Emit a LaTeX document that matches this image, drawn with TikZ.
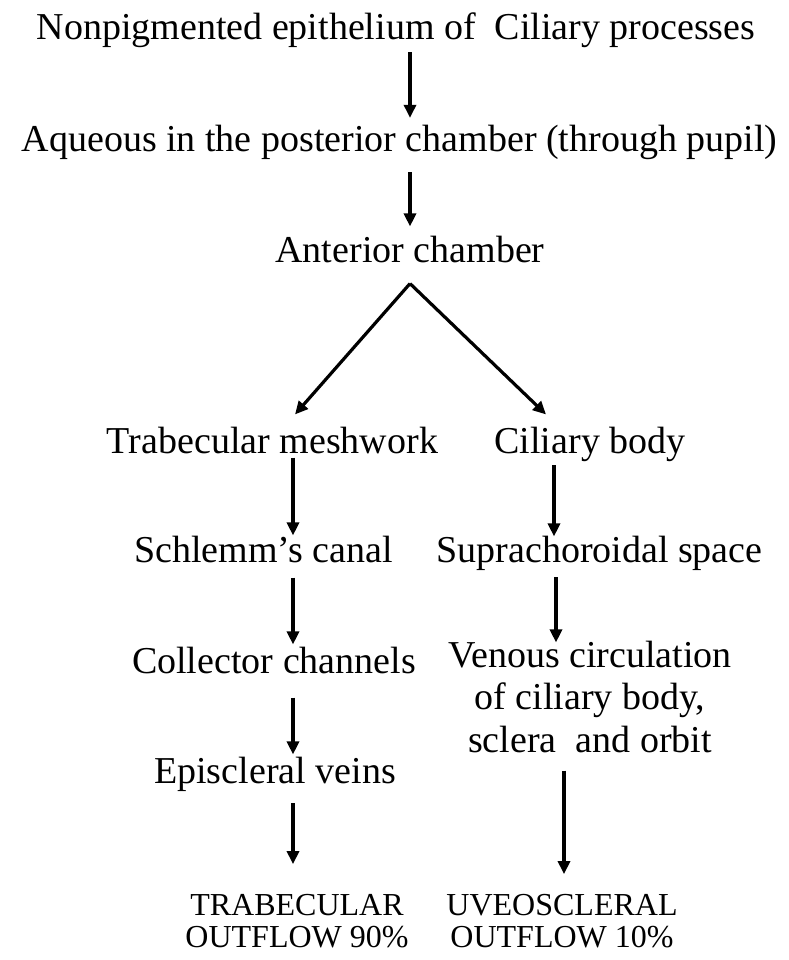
\documentclass[tikz,border=0pt]{standalone}
\usepackage{fontspec}
\setmainfont{Liberation Serif}
\usepackage{tikz}
\usetikzlibrary{arrows.meta}

\newcommand{\bigtext}{\fontsize{38}{42.5}\selectfont}
\newcommand{\smalltext}{\fontsize{32}{31.5}\selectfont}

\begin{document}
\begin{tikzpicture}[x=1pt,y=-1pt,
                    arr/.style={-{Triangle[length=13pt,width=12pt]},line width=3.2pt}]
                    \tikzstyle{every node}=[inner sep=0pt,anchor=base,font=\bigtext]

  \useasboundingbox[fill=white] (0,0) rectangle (788,960);

  \node (nonpig) at (396,40) {Nonpigmented epithelium of~~Ciliary processes};
  \node (aqueous) at (399.5,152) {Aqueous in the posterior chamber (through pupil)};
  \node (anterior) at (410,262) {Anterior chamber};

  \node (trab) at (272.5,453) {Trabecular meshwork};
  \node (ciliary) at (590,453) {Ciliary body};

  \node (schlemm) at (263.5,562) {Schlemm’s canal};
  \node (supra) at (599.5,562) {Suprachoroidal space};
  \node (collector) at (274,673) {Collector channels};
  \node (venous) [align=center] at (590,752) {Venous circulation\\of ciliary body,\\sclera~~and orbit};
  \node (episcleral) at (275,783) {Episcleral veins};

  \node (trabout) [align=center,font=\smalltext] at (297,947) {TRABECULAR\\OUTFLOW 90\%};
  \node (uveoout) [align=center,font=\smalltext] at (562,947) {UVEOSCLERAL\\OUTFLOW 10\%};

  % main stem
  \draw[arr,shorten <=4pt,shorten >=7.6pt] (nonpig.south -| anterior) -- (aqueous.north -| anterior);
  \draw[arr,shorten <=12pt,shorten >=9pt] (aqueous.south -| anterior) -- (anterior.north);
  \draw[arr] ([yshift=-21pt]anterior.south) -- ([xshift=22.5pt,yshift=12pt]trab.north);
  \draw[arr] ([yshift=-21pt]anterior.south) -- ([xshift=-44pt,yshift=12pt]ciliary.north);

  % trabecular route
  \draw[arr,shorten <=4pt] ([xshift=20.5pt]trab.south) -- ([xshift=20.5pt]trab.south |- schlemm.north);
  \draw[arr,shorten <=15pt,shorten >=2pt] ([xshift=20.5pt]trab.south |- schlemm.south) -- ([xshift=20.5pt]trab.south |- collector.north);
  \draw[arr,shorten <=24pt,shorten >=2pt] ([xshift=20.5pt]trab.south |- collector.south) -- ([xshift=20.5pt]trab.south |- episcleral.north);
  \draw[arr,shorten <=12pt,shorten >=30pt] ([xshift=20.5pt]trab.south |- episcleral.south) -- ([xshift=20.5pt]trab.south |- trabout.north);

  % uveoscleral route
  \draw[arr,shorten <=4pt,shorten >=-1pt] ([xshift=-36pt]ciliary.south) -- ([xshift=-36pt]ciliary.south |- supra.north);
  \draw[arr,shorten <=7pt,shorten >=-2pt] ([xshift=-34pt]ciliary.south |- supra.south) -- ([xshift=-34pt]ciliary.south |- venous.north);
  \draw[arr,shorten <=18pt,shorten >=20pt] ([xshift=-26pt]ciliary.south |- venous.south) -- ([xshift=-26pt]ciliary.south |- uveoout.north);

\end{tikzpicture}
\end{document}
